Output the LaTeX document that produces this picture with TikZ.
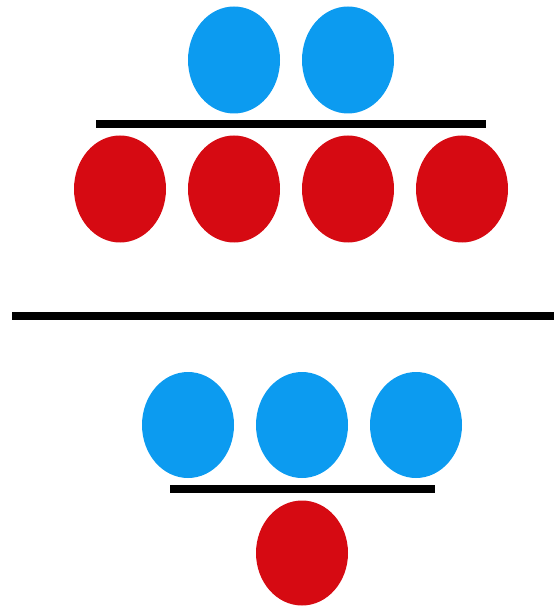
\documentclass[tikz,border=0pt]{standalone}
\usetikzlibrary{shapes.geometric}
\definecolor{ballblue}{RGB}{12,155,240}
\definecolor{ballred}{RGB}{214,10,18}
\tikzset{
  ball/.style={ellipse, inner sep=0pt, minimum width=92pt, minimum height=107pt, draw=none},
  blueball/.style={ball, fill=ballblue},
  redball/.style={ball, fill=ballred},
  bar/.style={line width=8pt, black}
}
\begin{document}
\begin{tikzpicture}[x=1pt,y=-1pt]
\useasboundingbox (0,0) rectangle (554,609);
% top fraction
\node[blueball] (tb1) at (234,60) {};
\node[blueball] (tb2) at (348,60) {};
\coordinate (tl1) at (96,124);
\coordinate (tl2) at (486,124);
\draw[bar] (tl1) -- (tl2);
\node[redball] (tr1) at (120,189) {};
\node[redball] (tr2) at (234,189) {};
\node[redball] (tr3) at (348,189) {};
\node[redball] (tr4) at (462,189) {};
% divider
\coordinate (ml1) at (12,316);
\coordinate (ml2) at (554,316);
\draw[bar] (ml1) -- (ml2);
% bottom fraction
\node[blueball, minimum height=106pt] (bb1) at (188,425) {};
\node[blueball, minimum height=106pt] (bb2) at (302,425) {};
\node[blueball, minimum height=106pt] (bb3) at (416,425) {};
\coordinate (bl1) at (170,489);
\coordinate (bl2) at (435,489);
\draw[bar] (bl1) -- (bl2);
\node[redball, minimum height=105pt] (br1) at (302,553) {};
\end{tikzpicture}
\end{document}
